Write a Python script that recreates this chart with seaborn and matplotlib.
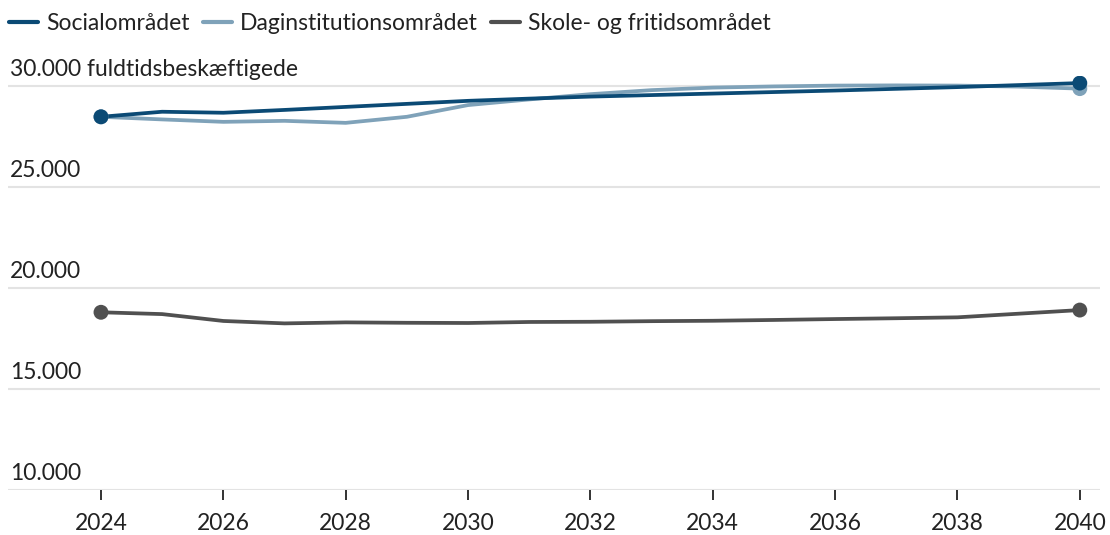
import pandas as pd
import matplotlib.pyplot as plt
import seaborn as sns

# --- Data ---
years = list(range(2024, 2041))
social = [28480, 28730, 28680, 28820, 28970, 29120, 29270, 29380, 29480,
          29555, 29630, 29705, 29780, 29865, 29950, 30050, 30150]
dagins = [28480, 28350, 28230, 28280, 28180, 28480, 29060, 29340, 29600,
          29800, 29925, 29985, 30025, 30035, 30025, 29975, 29875]
skole = [18800, 18710, 18370, 18250, 18300, 18280, 18270, 18320, 18330,
         18360, 18380, 18420, 18465, 18505, 18550, 18730, 18910]

series_names = ['Socialområdet', 'Daginstitutionsområdet', 'Skole- og fritidsområdet']
colors = {'Socialområdet': '#0b4a75',
          'Daginstitutionsområdet': '#7fa2b9',
          'Skole- og fritidsområdet': '#505050'}

y_ticks = [10000, 15000, 20000, 25000, 30000]
y_labels = ['10.000', '15.000', '20.000', '25.000', '30.000 fuldtidsbeskæftigede']
x_ticks = list(range(2024, 2041, 2))

df = pd.DataFrame({'År': years * 3,
                   'Værdi': social + dagins + skole,
                   'Område': [n for n in series_names for _ in years]})

sns.set_theme(style='white')
plt.rcParams['font.family'] = ['Lato', 'DejaVu Sans']
TEXT = '#222222'
FS = 16.5

fig = plt.figure(figsize=(11.1, 5.35), dpi=100)
ax = fig.add_axes([8 / 1110, 45 / 535, 1092 / 1110, (490 - 76) / 535])

# socialområdet drawn last so it sits on top
draw_order = series_names[::-1]
sns.lineplot(data=df, x='År', y='Værdi', hue='Område', hue_order=draw_order,
             palette=colors, linewidth=2.7, ax=ax, legend=False, zorder=3)

# end-point dots; rows sorted so the top series is drawn last
ends = df[df['År'].isin([years[0], years[-1]])].copy()
ends['rank'] = ends['Område'].map({n: i for i, n in enumerate(draw_order)})
ends = ends.sort_values('rank')
sns.scatterplot(data=ends, x='År', y='Værdi', hue='Område', hue_order=draw_order,
                palette=colors, s=115, edgecolor='none', ax=ax, legend=False,
                zorder=4)

ax.set_xlim(2022.48, 2040.33)
ax.set_ylim(10000, 30500)

for s in ax.spines.values():
    s.set_visible(False)

for yv, lab in zip(y_ticks, y_labels):
    ax.axhline(yv, color='#e3e3e3', linewidth=1.5, zorder=1)
    ax.annotate(lab, xy=(0, yv), xycoords=ax.get_yaxis_transform(),
                xytext=(1.5, 7.5), textcoords='offset points',
                ha='left', va='baseline', fontsize=FS, color=TEXT)

ax.set_yticks([])
ax.set_xticks(x_ticks)
ax.set_xticklabels([str(x) for x in x_ticks])
ax.tick_params(axis='x', length=7, width=1.4, color='#333333', pad=9.5,
               labelsize=FS, labelcolor=TEXT, bottom=True)
ax.set_xlabel('')
ax.set_ylabel('')

handles = [plt.Line2D([], [], color=colors[n], linewidth=3) for n in series_names]
fig.legend(handles, series_names, loc='upper left', bbox_to_anchor=(0.0, 0.9925),
           ncol=3, frameon=False, fontsize=FS, handlelength=1.25,
           handletextpad=0.35, columnspacing=0.6, borderaxespad=0.0,
           borderpad=0.4, labelcolor=TEXT)

fig.savefig('out.png', dpi=100)
